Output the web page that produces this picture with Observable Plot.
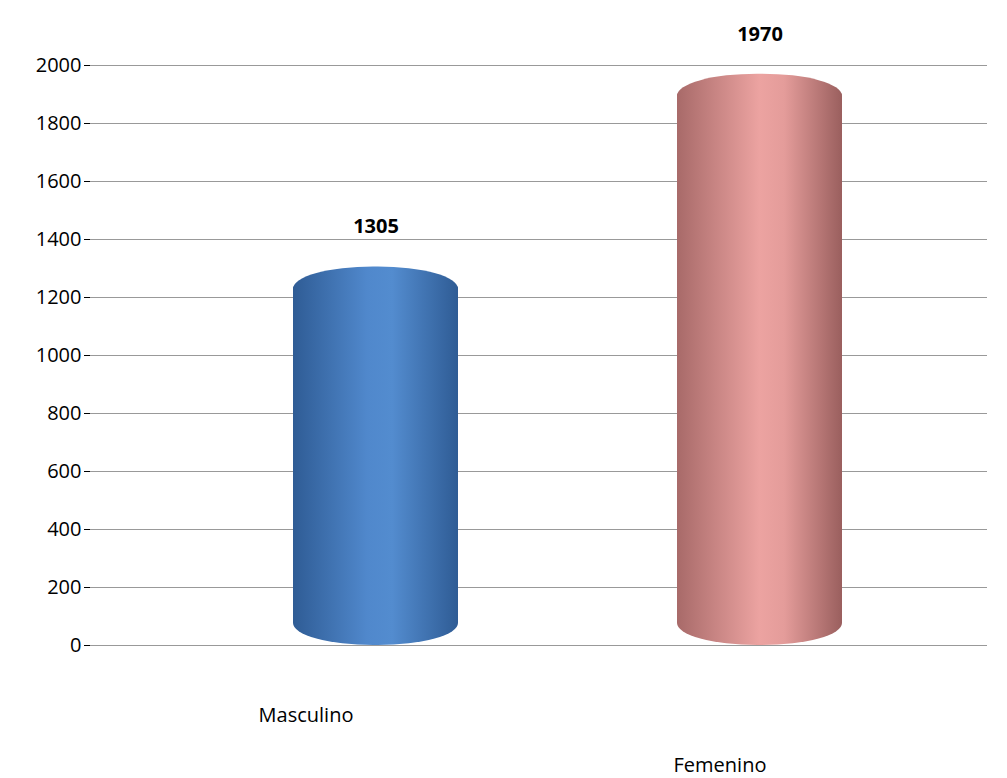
<!DOCTYPE html>
<html>
<head>
<meta charset="utf-8">
<script src="https://cdn.jsdelivr.net/npm/d3@7"></script>
<script src="https://cdn.jsdelivr.net/npm/@observablehq/plot@0.6"></script>
<style>
  body { margin: 0; background: #fff; font-family: "Open Sans", sans-serif; }
</style>
</head>
<body>
<div id="chart"></div>
<script>
// datos
const categorias = ['Masculino', 'Femenino']
const valores = [1305, 1970]
const colores = ['url(#gradAzul)', 'url(#gradRosa)']
const ticksY = [0, 200, 400, 600, 800, 1000, 1200, 1400, 1600, 1800, 2000]

const data = categorias.map((c, i) => ({ sexo: c, total: valores[i], fill: colores[i] }))

let chart = Plot.plot({
  width: 1007,
  height: 778,
  marginLeft: 90,
  marginRight: 20,
  marginTop: 65,
  marginBottom: 133,
  style: { fontSize: '20px', fontFamily: '"Open Sans", sans-serif', color: '#000' },
  x: { domain: categorias, range: [100, 1035], paddingInner: 0.57, paddingOuter: 0.5, axis: null },
  y: { domain: [0, 2000], ticks: ticksY, tickFormat: d => String(d), label: null, tickSize: 6 },
  marks: [
    Plot.ruleY(ticksY, { stroke: '#999' }),
    Plot.ruleX([0], { stroke: '#999' }),
    Plot.barY(data, { x: 'sexo', y: 'total', fill: 'fill', rx: 80, ry: 22 }),
    Plot.text(data, { x: 'sexo', y: 'total', text: d => String(d.total), dy: -40, fontWeight: 'bold', fontSize: 20 }),
    Plot.text(data.slice(0, 1), { x: 'sexo', y: 0, text: 'sexo', dx: -70, dy: 70, fontSize: 20 }),
    Plot.text(data.slice(1), { x: 'sexo', y: 0, text: 'sexo', dx: -40, dy: 120, fontSize: 20 })
  ]
})

// gradientes cilíndricos
const defs = d3.select(chart).insert('defs', ':first-child')
const grad = (id, stops) => {
  const g = defs.append('linearGradient').attr('id', id).attr('x1', 0).attr('x2', 1).attr('y1', 0).attr('y2', 0)
  stops.forEach(([o, c]) => g.append('stop').attr('offset', o).attr('stop-color', c))
}
grad('gradAzul', [[0, '#2f5c95'], [0.45, '#5088cc'], [0.6, '#538ccf'], [1, '#2f5c95']])
grad('gradRosa', [[0, '#a86a69'], [0.5, '#eca3a1'], [0.65, '#e49c9a'], [1, '#9a5f5e']])

d3.select('#chart').append(() => chart)
</script>
</body>
</html>
